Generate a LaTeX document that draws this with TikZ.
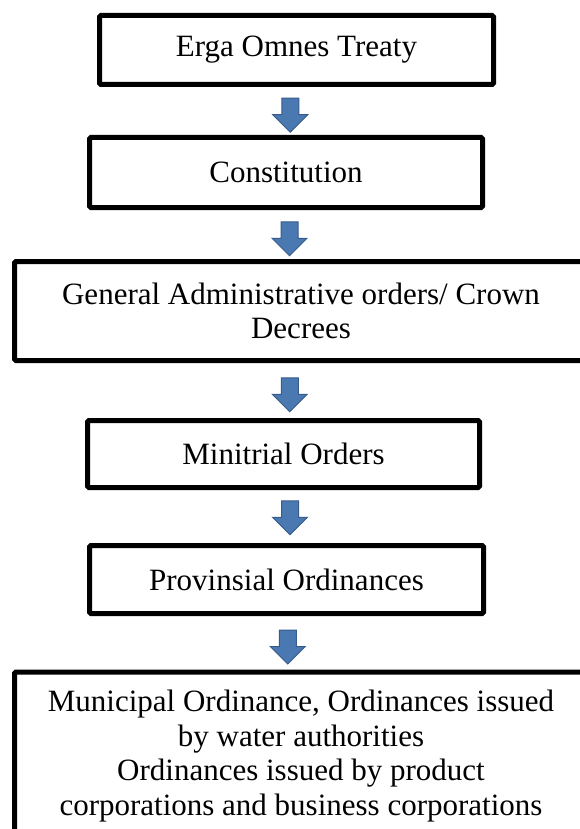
\documentclass[tikz,border=0pt]{standalone}
\usepackage{fontspec}
\setmainfont{Liberation Serif}
\usepackage{xcolor}
\usepackage{tikz}
\usetikzlibrary{positioning,shapes.arrows}
\definecolor{arrowfill}{HTML}{4A78B0}
\definecolor{arrowline}{HTML}{375B8C}
\tikzset{every picture/.style={line width=0.75pt}}
\tikzset{lawbox/.style={draw, line width=5pt, rounded corners=1.5pt, align=center, inner sep=0pt,
    font=\fontsize{31}{34.5}\selectfont},
  downarrow/.style={single arrow, shape border rotate=270, fill=arrowfill, draw=arrowline, line width=1pt,
    minimum height=34pt, minimum width=34pt, single arrow head extend=9pt, inner sep=8pt}}

\begin{document}
\begin{tikzpicture}[x=1pt,y=-1pt]
\useasboundingbox (0,0) rectangle (580,829);
\node[lawbox, minimum width=394pt, minimum height=69pt] at (296.5,50) (treaty) {Erga Omnes Treaty};
\node[lawbox, minimum width=393pt, minimum height=70pt] at (286,172.5) (constitution) {Constitution};
\node[lawbox, minimum width=573pt, minimum height=99pt] at (301,311) (decrees) {General Administrative orders/ Crown\\Decrees};
\node[lawbox, minimum width=392pt, minimum height=67pt] at (283.5,454) (ministerial) {Minitrial Orders};
\node[lawbox, minimum width=394pt, minimum height=68pt] at (286.5,579.5) (provincial) {Provinsial Ordinances};
\node[lawbox, minimum width=573pt, anchor=north, inner ysep=18pt] at (301,669.5) (municipal)
  {Municipal Ordinance, Ordinances issued\\by water authorities\\Ordinances issued by product\\corporations and business corporations};
\path (treaty.south) -- node[downarrow, xshift=-1pt] (a1) {} (constitution.north)
      (constitution.south) -- node[downarrow, xshift=-4pt] (a2) {} (decrees.north)
      (decrees.south) -- node[downarrow, xshift=-2.5pt] (a3) {} (ministerial.north)
      (ministerial.south) -- node[downarrow, xshift=5pt, yshift=3pt] (a4) {} (provincial.north)
      (provincial.south) -- node[downarrow, xshift=-6pt] (a5) {} (municipal.north);
\end{tikzpicture}
\end{document}
